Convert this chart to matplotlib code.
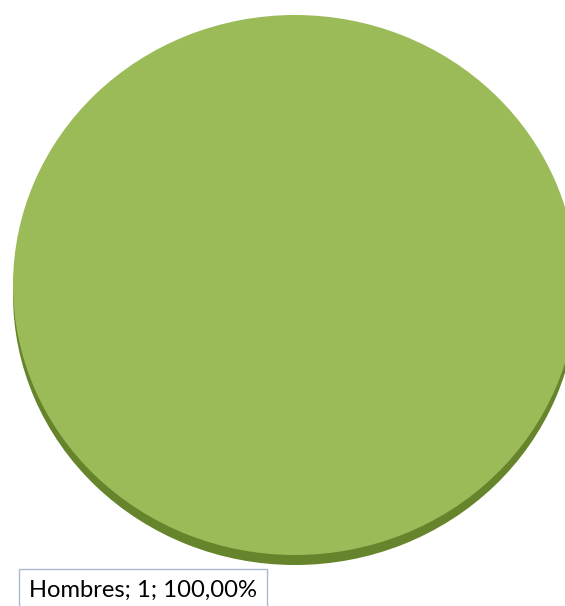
import matplotlib
matplotlib.use("Agg")
import matplotlib.pyplot as plt
from matplotlib.patches import Rectangle

# ---- data ----
categories = ["Hombres"]
values = [1]
face_colors = ["#9bbb59"]
side_colors = ["#66842b"]

W, H = 565, 606
fig = plt.figure(figsize=(W / 100, H / 100), dpi=100)
fig.patch.set_facecolor("white")

# pie ellipse geometry in pixels (top face)
left_px, right_px = 13, 577
top_px, bot_px = 15, 555
depth_px = 10
b = (bot_px - top_px) / 2.0

ax = fig.add_axes([left_px / W, (H - bot_px) / H,
                   (right_px - left_px) / W, (bot_px - top_px) / H])
off = depth_px / b

# side (depth) of the 3D pie
side, _ = ax.pie(values, colors=side_colors, center=(0, -off), radius=1,
                 wedgeprops=dict(linewidth=0), startangle=90)
# top face
top, _ = ax.pie(values, colors=face_colors, center=(0, 0), radius=1,
                wedgeprops=dict(linewidth=0), startangle=90)
for w in side + top:
    w.set_clip_on(False)
ax.set_aspect("auto")
ax.set_xlim(-1, 1)
ax.set_ylim(-1, 1)
ax.axis("off")

# ---- data label ----
total = sum(values)
pct = values[0] / total * 100
label = f"{categories[0]}; {values[0]}; {pct:.2f}%".replace(".", ",")

lax = fig.add_axes([0, 0, 1, 1], facecolor="none")
lax.set_xlim(0, W)
lax.set_ylim(H, 0)
lax.axis("off")
lax.add_patch(Rectangle((18.5, 568.5), 248, 50, facecolor="white",
                        edgecolor="#a9b8cc", linewidth=1.0))
t = lax.text(29, 597, label, fontsize=18, family=["Lato", "DejaVu Sans"],
             color="#000000", ha="left", va="baseline")
# fit text width to ~228 px
fig.canvas.draw()
bb = t.get_window_extent()
t.set_fontsize(18 * 228.0 / bb.width)

fig.savefig("out.png", dpi=100, facecolor="white")
